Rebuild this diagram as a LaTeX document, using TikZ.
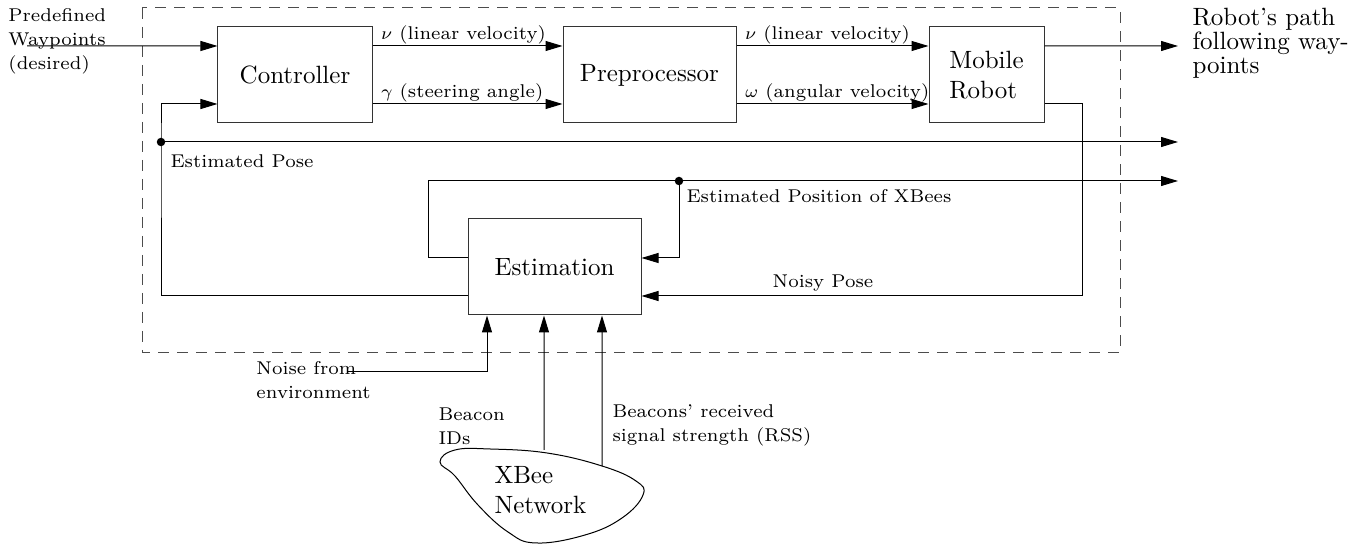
\documentclass[tikz,border=0pt]{standalone}
\usepackage{fontspec}
\usetikzlibrary{arrows.meta}
\newcommand{\labelsize}{\fontsize{7.4}{9.6}\selectfont}
\begin{document}
\begin{tikzpicture}
[
x=0.4pt, y=-0.4pt,
Block/.style={rectangle, draw=black!80, minimum height=38.4pt, inner sep=2pt, font=\normalsize},
Label/.style={font=\labelsize, inner sep=0pt, align=left},
SigLabel/.style={font=\labelsize, inner xsep=3.2pt, inner ysep=0.6pt, anchor=south west},
Signal/.style={-{Triangle[length=6.8pt,width=4pt]}},
Dot/.style={circle, fill=black, inner sep=0pt, minimum size=3.4pt},
Frame/.style={draw=black!70, dash pattern=on 4.4pt off 3.2pt}
]

\useasboundingbox (0,0) rectangle (1356,544);

% system boundary
\draw[Frame] (142,8) rectangle (1120,353);

% blocks
\node[Block, minimum width=61.6pt] (ctrl)  at (295,75)    {Controller};
\node[Block, minimum width=69.2pt] (prep)  at (649.5,75)  {Preprocessor};
\node[Block, minimum width=46pt, align=left] (robot) at (986.5,75) {Mobile\\Robot};
\node[Block, minimum width=69.2pt] (est)   at (554.5,267) {Estimation};

% free ends
\coordinate (wpin)     at (27,46);
\coordinate (robotout) at (1178,46);
\coordinate (poseout)  at (1178,142);
\coordinate (xbout)    at (1178,181);
\coordinate (noisein)  at (348,372);
\coordinate (idsrc)    at (544,450);
\coordinate (rsssrc)   at (602,466);

\node[Dot] (posedot) at (161,142) {};
\node[Dot] (xbdot)   at (679,181) {};

% forward path
\draw[Signal] (wpin) -- ([yshift=11.6pt]ctrl.west);
\draw[Signal] ([yshift=11.6pt]ctrl.east) node[SigLabel] (nuctrl) {$\nu$ (linear velocity)} -- ([yshift=11.6pt]prep.west);
\draw[Signal] ([yshift=-11.6pt]ctrl.east) node[SigLabel] (gamctrl) {$\gamma$ (steering angle)} -- ([yshift=-11.6pt]prep.west);
\draw[Signal] ([yshift=11.6pt]prep.east) node[SigLabel] (nuprep) {$\nu$ (linear velocity)} -- ([yshift=11.6pt]robot.west);
\draw[Signal] ([yshift=-11.6pt]prep.east) node[SigLabel] (omprep) {$\omega$ (angular velocity)} -- ([yshift=-11.6pt]robot.west);
\draw[Signal] ([yshift=11.6pt]robot.east) -- (robotout);

% feedback
\draw[Signal] ([yshift=-11.6pt]robot.east) -- ++(38,0) |- ([yshift=-11.6pt]est.east);
\draw[Signal] ([yshift=-11.6pt]est.west) -| (posedot.center) |- ([yshift=-11.6pt]ctrl.west);
\draw[Signal] (posedot.center) -- (poseout);
\draw[Signal] ([yshift=3.6pt]est.west) -- ++(-39,0) |- (xbout);
\draw[Signal] (xbdot.center) |- ([yshift=3.6pt]est.east);

% inputs to estimation
\draw[Signal] (noisein) -| ([xshift=-27pt]est.south);
\draw[Signal] (idsrc) -- ([xshift=-4.2pt]est.south);
\draw[Signal] (rsssrc) -- ([xshift=19pt]est.south);

% XBee network cloud
\draw plot[smooth cycle, tension=0.7] coordinates {(440,462) (455,450) (490,449) (547,453) (602,466) (636,481) (643,495) (622,518) (585,535) (536,543) (508,532) (478,505) (455,476)};

% texts
\node[Label, anchor=north west] (wplab)   at (8,8)     {Predefined\\Waypoints\\(desired)};
\node[Label, anchor=north west, font={\fontsize{10}{9.6}\selectfont}] (pathlab) at (1192,8) {Robot's path\\following way-\\points};
\node[Label, anchor=north west] (poselab) at (170,154) {Estimated Pose};
\node[Label, anchor=north west] (xblab)   at (686,189) {Estimated Position of XBees};
\node[Label, anchor=base]       (noisylab) at (823,288) {Noisy Pose};
\node[Label, anchor=north west] (noiselab) at (256,361) {Noise from\\environment};
\node[Label, anchor=north west] (idlab)   at (438,407) {Beacon\\IDs};
\node[Label, anchor=north west] (rsslab)  at (612,404) {Beacons' received\\signal strength (RSS)};
\node[Label, anchor=north west, font=\normalsize] (netlab) at (494,466) {XBee\\Network};
\end{tikzpicture}
\end{document}
